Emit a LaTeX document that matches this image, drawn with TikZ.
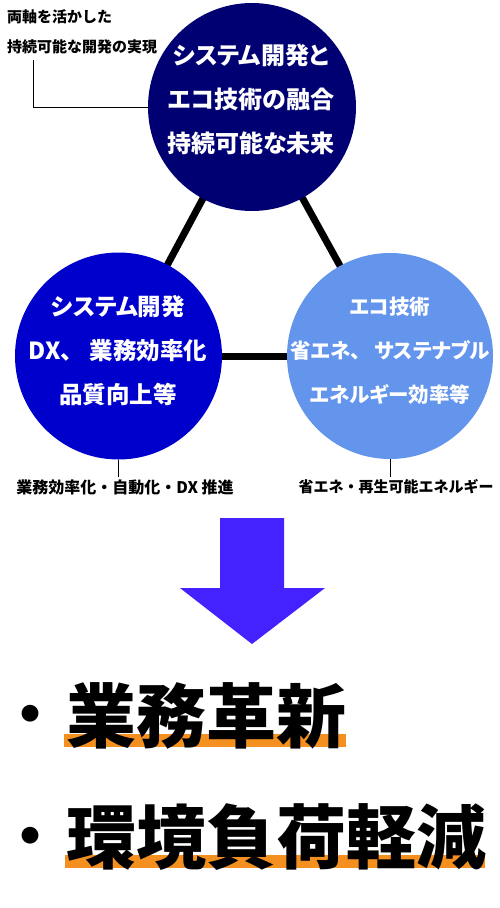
\documentclass[tikz,border=0pt]{standalone}
\usepackage{fontspec}
\setmainfont{Noto Sans CJK JP}
\definecolor{navyc}{HTML}{000073}
\definecolor{bluec}{HTML}{0000CC}
\definecolor{lightc}{HTML}{6495ED}
\definecolor{arrowc}{HTML}{4422FF}
\definecolor{orangec}{HTML}{F39020}
\tikzset{
  bubble/.style={circle, inner sep=0pt, minimum size=#1},
  ptext/.style={text=white, align=center, font=\bfseries\addfontfeatures{RawFeature=+palt}\fontsize{#1}{44}\selectfont, inner sep=0pt},
  note/.style={text=black, font=\bfseries\fontsize{#1}{30}\selectfont, inner sep=2pt},
  link/.style={line width=7pt, black},
  leader/.style={line width=1pt, black},
  big/.style={text=black, font=\bfseries\fontsize{70}{80}\selectfont, inner sep=0pt, anchor=base west},
  bullet/.style={text=black, font=\bfseries\fontsize{60}{60}\selectfont, inner sep=0pt, anchor=base west},
}
\begin{document}
\begin{tikzpicture}[x=1pt,y=-1pt]
\useasboundingbox (0,0) rectangle (500,908);
\fill[white] (0,0) rectangle (500,908);
% centers
\coordinate (ct) at (252,107);
\coordinate (cl) at (118.5,356);
\coordinate (cr) at (390,356);
\draw[link] (ct) -- (cl);
\draw[link] (ct) -- (cr);
\draw[link] (cl) -- (cr);
\node[bubble=208pt, fill=navyc] (top) at (ct) {};
\node[bubble=207pt, fill=bluec] (left) at (cl) {};
\node[bubble=206pt, fill=lightc] (right) at (cr) {};
\node[ptext=24] (ttext) at (251,99) {システム開発と\\エコ技術の融合\\持続可能な未来};
\node[ptext=23.5] (ltext) at (118,351) {システム開発\\DX、 \kern12pt業務効率化\\品質向上等};
\node[ptext=20.5] (rtext) at (390,351) {エコ技術\\省エネ、 \kern9pt サステナブル\\エネルギー効率等};
% notes
\node[note=15, align=left, anchor=west] (tnote) at (5,32) {両軸を活かした\\持続可能な開発の実現};
\coordinate (tl) at (33,60);
\draw[leader] (tl) |- (top.west);
\node[note=16] (lnote) at (125,487) {業務効率化・自動化・DX 推進};
\node[note=15] (rnote) at (396,487) {省エネ・再生可能エネルギー};
\draw[leader] (left.south) -- (left.south |- lnote.north);
\draw[leader] (right.south) -- (right.south |- rnote.north);
% arrow
\fill[arrowc] (220,518) -- (284,518) -- (284,588) -- (325,588) -- (252,644) -- (180,588) -- (220,588) -- cycle;
% highlights
\fill[orangec] (64,734) rectangle (346,747);
\fill[orangec] (65,855) rectangle (485,868);
\node[bullet] (b1) at (0,736) {・};
\node[big] (t1) at (66,742) {業務革新};
\node[bullet] (b2) at (0,858) {・};
\node[big] (t2) at (66,863) {環境負荷軽減};
\end{tikzpicture}
\end{document}
